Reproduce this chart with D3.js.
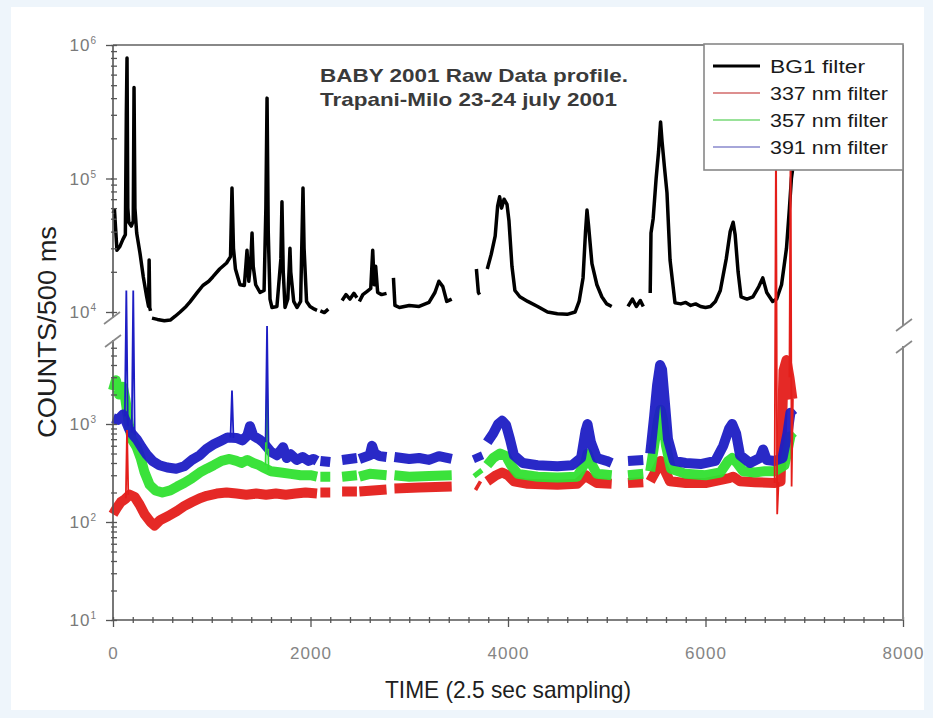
<!DOCTYPE html>
<html><head><meta charset="utf-8">
<script src="https://cdn.jsdelivr.net/npm/d3@7"></script>
<style>html,body{margin:0;padding:0;background:#eef5fb;} svg{display:block}</style>
</head><body>
<svg id="c" width="933" height="718"></svg>
<script>
// ---------- DATA (time index, counts per 500 ms); null = gap ----------
const timeTicks = [0, 2000, 4000, 6000, 8000];
const upperTicks = [1e4, 1e5, 1e6];
const lowerTicks = [10, 100, 1000];
const seriesNames = ["BG1 filter", "337 nm filter", "357 nm filter", "391 nm filter"];
const titleLines = ["BABY 2001 Raw Data profile.", "Trapani-Milo 23-24 july 2001"];

const bg1 = [[0,55000],[15,58000],[40,29000],[70,31000],[100,35000],[125,38000],[135,300000],[142,800000],[150,60000],[160,47000],[185,44000],[205,48000],[213,480000],[222,60000],[240,39000],[273,27700],[307,18300],[341,13000],[360,11000],[366,24500],[372,10800],[380,10200],[385,null],
[395,9000],[450,8800],[520,8600],[580,8700],[630,9300],[680,10000],[740,11000],[780,11900],[850,13900],[910,15800],[970,17000],[1010,18300],[1080,21000],[1150,23300],[1190,26000],[1205,85000],[1220,30000],[1240,21000],[1286,16000],[1330,15800],[1345,22000],[1357,29000],[1375,17000],[1395,24000],[1408,39000],[1420,22000],[1445,16000],[1489,14000],[1530,14500],[1548,60000],[1560,400000],[1572,40000],[1590,12500],[1610,10800],[1660,11000],[1700,25000],[1711,67000],[1724,20000],[1742,10800],[1770,12500],[1785,22000],[1792,30000],[1800,20000],[1830,12000],[1863,10800],[1900,12000],[1915,40000],[1924,85000],[1935,30000],[1960,12000],[1995,11000],[2040,10500],[2066,10300],[2075,null],
[2100,10200],[2140,9900],[2180,10500],[2200,null],
[2320,12200],[2360,13500],[2400,12500],[2440,13800],[2470,12800],[2480,null],
[2495,12000],[2530,13500],[2570,14200],[2610,15000],[2630,29000],[2645,16000],[2660,22000],[2680,14000],[2720,13500],[2770,13800],[2790,null],
[2840,18000],[2855,11200],[2900,10800],[3000,11200],[3100,11000],[3200,11800],[3260,14000],[3300,17000],[3340,15500],[3380,12000],[3430,12500],[3440,null],
[3680,21000],[3700,14000],[3712,13500],[3720,null],
[3790,21000],[3830,27000],[3870,37000],[3895,62000],[3915,73000],[3935,60000],[3960,70000],[3990,64000],[4010,48000],[4040,22000],[4070,14500],[4120,13000],[4200,12000],[4300,11000],[4400,10000],[4500,9700],[4600,9600],[4680,10000],[4720,12000],[4760,18000],[4785,40000],[4800,58000],[4815,45000],[4850,23000],[4900,16000],[4950,13000],[5000,11500],[5050,11000],[5060,null],
[5215,11000],[5260,12500],[5300,11000],[5340,12200],[5370,11000],[5380,null],
[5440,13900],[5448,39000],[5470,50000],[5500,100000],[5525,160000],[5545,265000],[5560,190000],[5585,120000],[5610,78000],[5641,24500],[5691,11700],[5750,11500],[5800,11800],[5850,11200],[5900,11500],[5950,11000],[6000,10800],[6050,11000],[6100,12000],[6150,14500],[6210,25000],[6250,40000],[6280,47000],[6300,38000],[6330,20000],[6360,13000],[6420,12500],[6480,13000],[6540,15500],[6580,18000],[6620,14000],[6680,12000],[6720,12500],[6770,16000],[6820,30000],[6850,60000],[6870,100000],[6890,130000]];

const f337 = [[0,120],[40,140],[80,160],[120,170],[170,190],[220,180],[270,150],[320,120],[380,100],[420,92],[480,105],[560,115],[650,130],[720,145],[800,160],[880,175],[950,185],[1050,195],[1150,200],[1250,195],[1350,190],[1450,195],[1550,190],[1650,195],[1750,190],[1850,195],[1950,200],[2066,195],[2075,null],[2100,200],[2200,200],[2210,null],[2320,205],[2470,205],[2480,null],[2495,205],[2770,215],[2790,null],[2850,220],[3100,225],[3430,230],[3440,null],[3680,240],[3712,230],[3720,null],[3790,260],[3880,300],[3940,320],[4000,300],[4060,260],[4200,245],[4500,240],[4700,245],[4790,300],[4820,280],[4900,250],[5050,245],[5060,null],[5215,250],[5370,255],[5380,null],[5440,260],[5510,350],[5545,420],[5580,350],[5640,260],[5800,250],[6000,250],[6240,280],[6280,290],[6350,260],[6500,255],[6700,250],[6760,260],[6790,3500],[6820,4500],[6850,3000],[6880,1800]];

const f357 = [[0,2200],[30,2800],[60,2000],[100,2400],[125,1800],[160,1000],[190,700],[240,580],[280,450],[320,320],[370,240],[430,210],[500,200],[580,210],[650,230],[720,250],[800,280],[880,320],[950,350],[1020,380],[1100,420],[1180,440],[1250,420],[1300,400],[1360,430],[1420,400],[1480,380],[1520,360],[1600,330],[1700,320],[1800,310],[1900,300],[2000,300],[2066,290],[2075,null],
[2100,290],[2200,290],[2210,null],[2320,290],[2470,300],[2480,null],[2495,290],[2600,310],[2770,300],[2790,null],[2850,300],[3000,290],[3200,295],[3430,300],[3440,null],[3680,330],[3712,300],[3720,null],
[3790,380],[3850,450],[3920,500],[3980,470],[4030,380],[4100,310],[4300,290],[4500,285],[4700,290],[4780,400],[4805,500],[4840,400],[4900,310],[5050,300],[5060,null],[5215,300],[5370,310],[5380,null],
[5440,330],[5480,600],[5520,1100],[5545,1400],[5570,1100],[5600,600],[5650,350],[5800,310],[6000,300],[6150,320],[6230,420],[6270,450],[6320,400],[6380,330],[6500,320],[6600,330],[6700,330],[6800,380],[6860,750],[6890,700]];

const f391 = [[0,1150],[50,1100],[100,1250],[125,1100],[160,900],[190,800],[240,700],[290,580],[340,490],[400,420],[470,380],[550,360],[640,350],[720,370],[800,430],[880,480],[950,560],[1020,620],[1100,680],[1160,730],[1250,720],[1310,680],[1360,760],[1387,950],[1420,760],[1480,700],[1520,650],[1600,520],[1660,480],[1722,580],[1760,450],[1800,490],[1860,430],[1920,460],[1980,420],[2030,440],[2066,420],[2075,null],
[2100,420],[2200,410],[2210,null],[2320,430],[2470,450],[2480,null],[2495,440],[2600,480],[2623,600],[2650,500],[2700,470],[2770,460],[2790,null],[2850,460],[3000,440],[3100,450],[3200,430],[3300,470],[3430,440],[3440,null],[3680,500],[3712,420],[3720,null],
[3790,650],[3850,800],[3900,1000],[3940,1080],[3980,980],[4020,700],[4060,480],[4150,400],[4300,380],[4500,370],[4650,380],[4740,450],[4785,850],[4805,1000],[4840,650],[4900,450],[5000,420],[5050,400],[5060,null],[5215,420],[5370,430],[5380,null],
[5440,500],[5480,1200],[5510,2500],[5540,4000],[5560,3600],[5590,1600],[5620,700],[5680,420],[5800,400],[5950,390],[6100,420],[6180,600],[6240,900],[6270,1000],[6310,800],[6350,480],[6450,400],[6550,450],[6583,550],[6620,430],[6700,420],[6780,450],[6830,800],[6860,1300],[6890,1200]];

// narrow spikes of the filter channels
const spikes337 = [[130,175],[142,870],[155,190],[165,null],[6700,250],[6714,1e6],[6726,120],[6740,255],[6750,null],[6850,3000],[6862,1e6],[6872,230],[6885,1800]];
const spikes357 = [[1545,380],[1560,2600],[1575,340]];
const spikes391 = [[120,1200],[135,23000],[150,950],[160,null],[190,820],[205,23000],[220,780],[230,null],[1190,730],[1205,2200],[1220,720],[1230,null],[1545,650],[1560,10000],[1575,560]];

// ---------- DRAWING ----------
const svg = d3.select('#c');
svg.append('rect').attr('x',11).attr('y',7).attr('width',913).attr('height',703).attr('fill','#fff');

const x = d3.scaleLinear().domain([0, 8000]).range([113, 903]);
const yU = d3.scaleLog().domain([1e4, 1e6]).range([312, 45]);
const yL = d3.scaleLog().domain([10, 1e3]).range([620, 424]);

const lineU = d3.line().defined(d => d[1] != null).x(d => x(d[0])).y(d => yU(d[1]));
const lineL = d3.line().defined(d => d[1] != null).x(d => x(d[0])).y(d => yL(d[1]));

const cRed = '#e41e1a', cGreen = '#30e030', cBlue = '#1e1ec4';
const font = 'Arial, Liberation Sans, sans-serif';

svg.append('path').attr('d', lineU(bg1)).attr('fill','none').attr('stroke','#000')
  .attr('stroke-width',3.5).attr('stroke-linejoin','round');

[[f337,cRed],[f357,cGreen],[f391,cBlue]].forEach(([data,col]) => {
  svg.append('path').attr('d', lineL(data)).attr('fill','none').attr('stroke',col)
    .attr('stroke-width',10).attr('stroke-linejoin','round').attr('stroke-opacity',0.95);
});
[[spikes337,cRed],[spikes357,cGreen],[spikes391,cBlue]].forEach(([data,col]) => {
  svg.append('path').attr('d', lineL(data)).attr('fill','none').attr('stroke',col)
    .attr('stroke-width',1.8).attr('stroke-linejoin','miter');
});

// ---------- AXES ----------
const axisCol = '#555', frameCol = '#888';
function clean(g){ g.select('.domain').remove(); g.selectAll('line').attr('stroke',axisCol).attr('stroke-width',1.3); }

// bottom axis
const xMinor = d3.range(0, 8001, 200).filter(v => v % 2000 !== 0);
svg.append('g').attr('transform','translate(0,617)')
  .call(d3.axisBottom(x).tickValues(xMinor).tickSize(6).tickFormat('')).call(clean);
const xg = svg.append('g').attr('transform','translate(0,617)')
  .call(d3.axisBottom(x).tickValues(timeTicks).tickSize(10).tickFormat(d3.format('d'))).call(clean);
xg.selectAll('text').attr('dy', null).attr('y', 42).attr('font-family',font)
  .attr('font-size', 17).attr('letter-spacing', 1).attr('fill','#858585');
svg.append('line').attr('x1',113).attr('x2',903).attr('y1',620).attr('y2',620).attr('stroke',axisCol).attr('stroke-width',1.6);

// frame top / right
svg.append('line').attr('x1',113).attr('x2',903).attr('y1',45).attr('y2',45).attr('stroke',frameCol).attr('stroke-width',2);
svg.append('line').attr('x1',903).attr('x2',903).attr('y1',45).attr('y2',326).attr('stroke',frameCol).attr('stroke-width',2);
svg.append('line').attr('x1',903).attr('x2',903).attr('y1',346).attr('y2',620).attr('stroke',frameCol).attr('stroke-width',2);

// left axis upper
const upMinor = [];
[1e4, 1e5].forEach(d => { for (let k = 2; k <= 9; k++) upMinor.push(k * d); });
svg.append('g').attr('transform','translate(113,0)').call(d3.axisLeft(yU).tickValues(upperTicks).tickSize(7).tickFormat('')).call(clean);
svg.append('g').attr('transform','translate(111,0)').call(d3.axisRight(yU).tickValues(upperTicks.concat(upMinor)).tickSize(6).tickFormat('')).call(clean);
svg.append('line').attr('x1',113).attr('x2',113).attr('y1',45).attr('y2',318).attr('stroke',axisCol).attr('stroke-width',1.6);

// left axis lower
const loMinor = [];
lowerTicks.forEach(d => { for (let k = 2; k <= 9; k++) if (yL(k * d) >= 342) loMinor.push(k * d); });
svg.append('g').attr('transform','translate(113,0)').call(d3.axisLeft(yL).tickValues(lowerTicks).tickSize(7).tickFormat('')).call(clean);
svg.append('g').attr('transform','translate(111,0)').call(d3.axisRight(yL).tickValues(lowerTicks.concat(loMinor)).tickSize(6).tickFormat('')).call(clean);
svg.append('line').attr('x1',113).attr('x2',113).attr('y1',340).attr('y2',620).attr('stroke',axisCol).attr('stroke-width',1.6);

// break marks
[[112,318],[113,341],[904,325],[904,347]].forEach(([cx,cy]) => {
  svg.append('line').attr('x1',cx-8).attr('y1',cy+6).attr('x2',cx+8).attr('y2',cy-6)
    .attr('stroke',frameCol).attr('stroke-width',1.6);
});

// y tick labels (powers of ten)
function powLabel(v, yy){
  const e = Math.round(Math.log10(v));
  const t = svg.append('text').attr('x', 96).attr('y', yy + 6).attr('text-anchor','end')
    .attr('font-family',font).attr('font-size',17).attr('fill','#7a7a7a');
  t.append('tspan').text('10').attr('letter-spacing',1);
  t.append('tspan').text(e).attr('font-size',10).attr('dy',-7);
}
upperTicks.forEach(v => powLabel(v, yU(v)));
lowerTicks.forEach(v => powLabel(v, yL(v)));

// axis titles
svg.append('text').attr('transform','translate(56,332) rotate(-90)').attr('text-anchor','middle')
  .attr('font-family',font).attr('font-size',25).attr('fill','#1e1e1e')
  .attr('textLength',212).attr('lengthAdjust','spacingAndGlyphs').text('COUNTS/500 ms');
svg.append('text').attr('x',508).attr('y',698).attr('text-anchor','middle')
  .attr('font-family',font).attr('font-size',24).attr('fill','#1e1e1e')
  .attr('textLength',246).attr('lengthAdjust','spacingAndGlyphs').text('TIME (2.5 sec sampling)');

// annotation title
[[titleLines[0],82,308],[titleLines[1],106,297]].forEach(([s,yy,w]) => {
  svg.append('text').attr('x',320).attr('y',yy).attr('font-family',font)
    .attr('font-size',19).attr('font-weight','bold').attr('fill','#3a3a3a')
    .attr('textLength',w).attr('lengthAdjust','spacingAndGlyphs').text(s);
});

// legend
const lg = svg.append('g');
lg.append('rect').attr('x',704).attr('y',44).attr('width',199).attr('height',126)
  .attr('fill','#fff').attr('stroke',frameCol).attr('stroke-width',1.6);
const legCols = ['#000', '#d26a6a', '#77d877', '#8888cc'];
const legW = [3, 1.3, 1.3, 1.3];
const legTL = [95, 118, 118, 118];
seriesNames.forEach((s, i) => {
  const yy = 66 + i * 27;
  lg.append('line').attr('x1',713).attr('x2',760).attr('y1',yy).attr('y2',yy)
    .attr('stroke',legCols[i]).attr('stroke-width',legW[i]);
  lg.append('text').attr('x',770).attr('y',yy + 7).attr('font-family',font)
    .attr('font-size',18).attr('fill','#1a1a1a').attr('textLength',legTL[i]).attr('lengthAdjust','spacingAndGlyphs').text(s);
});
</script>
</body></html>
